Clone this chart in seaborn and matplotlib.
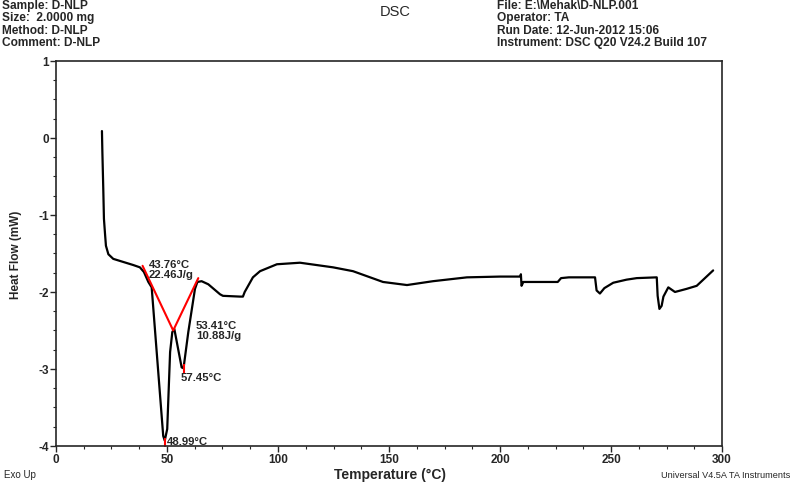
import seaborn as sns
import matplotlib.pyplot as plt
import pandas as pd
from matplotlib.ticker import MultipleLocator

# DSC trace
temp = [20.7, 20.9, 21.3, 21.6, 22.1, 22.5, 23.6, 25.8, 30.3, 34.8, 37.8, 39.6,
        41.6, 43.1, 48.3, 48.99, 50.1, 51.4, 52.4, 53.3, 56.6, 57.45, 59.6, 62.6,
        63.7, 65.6, 68.6, 73.9, 75.2, 82.9, 84.2, 85.0, 88.7, 91.9, 99.5, 109.9,
        124.8, 133.8, 147.3, 158.1, 169.8, 185.1, 200.0, 209.2, 209.4, 209.7, 210.5,
        226.0, 227.5, 231.0, 242.8, 243.5, 245.0, 247.0, 251.0, 257.0, 261.6, 270.6,
        271.0, 271.8, 272.8, 273.6, 275.8, 278.8, 284.0, 288.6, 296.0]
heat_flow = [0.09, -0.19, -0.66, -1.05, -1.25, -1.40, -1.51, -1.57, -1.61, -1.65, -1.68, -1.74,
             -1.87, -1.94, -3.87, -3.93, -3.78, -2.78, -2.52, -2.48, -2.98, -2.99, -2.52, -1.96,
             -1.87, -1.86, -1.90, -2.03, -2.05, -2.06, -2.06, -2.00, -1.81, -1.73, -1.64, -1.62,
             -1.68, -1.73, -1.87, -1.91, -1.86, -1.81, -1.80, -1.80, -1.77, -1.92, -1.87,
             -1.87, -1.82, -1.81, -1.81, -1.98, -2.02, -1.95, -1.88, -1.84, -1.82, -1.81,
             -2.05, -2.22, -2.18, -2.06, -1.94, -2.00, -1.96, -1.92, -1.72]

# integration baseline (red)
base_t = [39.0, 52.8, 64.1]
base_hf = [-1.66, -2.50, -1.82]

# peak markers
peak_t = [48.99, 57.45]
peak_hf = [-3.96, -3.00]

x_ticks = [0, 50, 100, 150, 200, 250, 300]
y_ticks = [1, 0, -1, -2, -3, -4]

df = pd.DataFrame({'Temperature': temp, 'Heat Flow': heat_flow})
base = pd.DataFrame({'Temperature': base_t, 'Heat Flow': base_hf})

sns.set_style('ticks')
plt.rcParams['font.family'] = ['Liberation Sans', 'DejaVu Sans']
plt.rcParams['axes.unicode_minus'] = False

fig = plt.figure(figsize=(7.93, 4.85), dpi=100)
ax = fig.add_axes([0.0706, 0.0784, 0.8399, 0.7938])

sns.lineplot(data=df, x='Temperature', y='Heat Flow', sort=False, color='black',
             linewidth=1.6, ax=ax)
sns.lineplot(data=base, x='Temperature', y='Heat Flow', sort=False, color='red',
             linewidth=1.5, ax=ax)
ax.plot(peak_t, peak_hf, linestyle='none', marker='|', markersize=7, color='red', mew=1.5)

ax.set_xlim(0, 300)
ax.set_ylim(-4, 1)
ax.set_xticks(x_ticks)
ax.set_yticks(y_ticks)
ax.xaxis.set_minor_locator(MultipleLocator(12.5))
ax.yaxis.set_minor_locator(MultipleLocator(0.25))
ax.tick_params(which='major', direction='out', length=4, width=1, labelsize=8.5, pad=1)
ax.tick_params(which='minor', direction='out', length=2.5, width=0.8)
for lab in ax.get_xticklabels() + ax.get_yticklabels():
    lab.set_fontweight('bold')
for sp in ax.spines.values():
    sp.set_visible(True)
    sp.set_linewidth(1.2)
ax.set_xlabel('')
ax.set_ylabel('Heat Flow (mW)', fontsize=8.5, fontweight='bold', labelpad=12)

# peak annotations
ax.text(41.9, -1.57, '43.76°C\n22.46J/g', fontsize=8.2, fontweight='bold', va='top',
        linespacing=1.0)
ax.text(63.0, -2.36, '53.41°C\n10.88J/g', fontsize=8.2, fontweight='bold', va='top',
        linespacing=1.0)
ax.text(56.3, -3.04, '57.45°C', fontsize=8.2, fontweight='bold', va='top')
ax.text(50.0, -4.0, '48.99°C', fontsize=8.2, fontweight='bold', va='bottom')

# header and footer
fig.text(0.003, 1.0, 'Sample: D-NLP\nSize:  2.0000 mg\nMethod: D-NLP\nComment: D-NLP',
         fontsize=8.6, fontweight='bold', va='top', ha='left', linespacing=1.05)
fig.text(0.627, 1.0, 'File: E:\\Mehak\\D-NLP.001\nOperator: TA\nRun Date: 12-Jun-2012 15:06\n'
         'Instrument: DSC Q20 V24.2 Build 107',
         fontsize=8.6, fontweight='bold', va='top', ha='left', linespacing=1.05)
fig.text(0.498, 0.975, 'DSC', fontsize=10.5, ha='center', va='center')
fig.text(0.005, 0.02, 'Exo Up', fontsize=7, ha='left', va='center')
fig.text(0.492, 0.02, 'Temperature (°C)', fontsize=10, fontweight='bold', ha='center', va='center')
fig.text(0.997, 0.02, 'Universal V4.5A TA Instruments', fontsize=6.6, ha='right', va='center')

plt.savefig('out.png', dpi=100)
